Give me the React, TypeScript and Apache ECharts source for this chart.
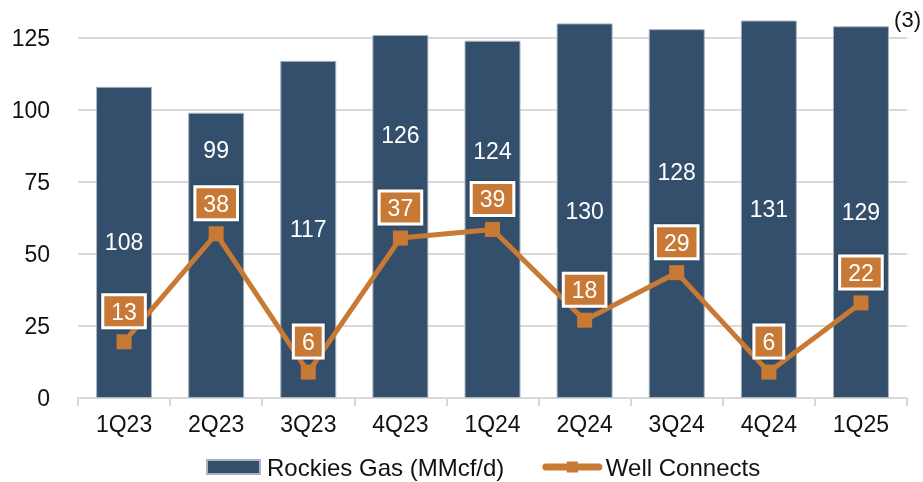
import React, { useEffect, useRef } from "react";
import * as echarts from "echarts";

const categories = ["1Q23", "2Q23", "3Q23", "4Q23", "1Q24", "2Q24", "3Q24", "4Q24", "1Q25"];
const rockiesGas = [108, 99, 117, 126, 124, 130, 128, 131, 129];
const wellConnects = [13, 38, 6, 37, 39, 18, 29, 6, 22];
const barLabelShift = [0, -105, 0, -81, -68, 0, -42, 0, 0];
const yTicks = { min: 0, max: 135, interval: 25 };
const footnote = "(3)";

const FONT = "Liberation Sans, Arial, sans-serif";
const BAR_COLOR = "#334f6b";
const LINE_COLOR = "#c87934";
const GRID_COLOR = "#d9d9d9";

export default function App() {
  const ref = useRef<HTMLDivElement>(null);
  useEffect(() => {
    if (!ref.current) return;
    const chart = echarts.init(ref.current, undefined, { renderer: "svg" });
    chart.setOption({
      animation: false,
      textStyle: { fontFamily: FONT },
      grid: { left: 78, right: 16, top: 9, bottom: 84, containLabel: false },
      legend: {
        top: 455,
        left: 206,
        padding: 0,
        itemGap: 38,
        itemWidth: 53,
        itemHeight: 14,
        textStyle: { fontSize: 24, color: "#111", fontFamily: FONT, padding: [0, 0, 0, 2] },
        data: [
          { name: "Rockies Gas (MMcf/d)", icon: "rect" },
          { name: "Well Connects", lineStyle: { width: 7, cap: "round" } },
        ],
      },
      graphic: [
        {
          type: "text",
          right: 2,
          top: 8,
          style: { text: footnote, fontSize: 22, fill: "#111", fontFamily: FONT },
        },
      ],
      xAxis: {
        type: "category",
        data: categories,
        boundaryGap: true,
        axisLine: { lineStyle: { color: GRID_COLOR, width: 2 } },
        axisTick: { show: true, length: 8, lineStyle: { color: GRID_COLOR, width: 2 } },
        axisLabel: { fontSize: 23, color: "#111", margin: 14, fontFamily: FONT },
      },
      yAxis: [
        {
          type: "value",
          min: yTicks.min,
          max: yTicks.max,
          interval: yTicks.interval,
          axisLabel: { fontSize: 23, color: "#111", margin: 28, showMaxLabel: false, fontFamily: FONT },
          axisLine: { show: false },
          axisTick: { show: false },
          splitLine: {
            lineStyle: {
              color: [GRID_COLOR, GRID_COLOR, GRID_COLOR, GRID_COLOR, GRID_COLOR, GRID_COLOR, "rgba(0,0,0,0)"],
              width: 2,
            },
          },
        },
        {
          type: "value",
          min: 0,
          max: yTicks.max / 1.5,
          show: false,
          splitLine: { show: false },
        },
      ],
      series: [
        {
          name: "Rockies Gas (MMcf/d)",
          type: "bar",
          yAxisIndex: 0,
          barWidth: 56,
          itemStyle: { color: BAR_COLOR, borderColor: "#aab4c0", borderWidth: 1 },
          data: rockiesGas.map((v, i) => ({
            value: v,
            label: { offset: [0, barLabelShift[i]] },
          })),
          label: {
            show: true,
            position: "inside",
            color: "#fff",
            fontSize: 23,
            fontFamily: FONT,
          },
          z: 1,
        },
        {
          name: "Well Connects",
          type: "line",
          yAxisIndex: 1,
          data: wellConnects,
          symbol: "rect",
          symbolSize: 15,
          lineStyle: { color: LINE_COLOR, width: 5 },
          itemStyle: { color: LINE_COLOR },
          label: {
            show: true,
            position: "top",
            distance: 8,
            color: "#fff",
            fontSize: 23,
            fontFamily: FONT,
            backgroundColor: LINE_COLOR,
            borderColor: "#fff",
            borderWidth: 3,
            padding: [4, 7, 3, 7],
            shadowColor: "rgba(0,0,0,0.35)",
            shadowBlur: 2,
          },
          z: 3,
        },
      ],
    });
    return () => chart.dispose();
  }, []);
  return (
    <div
      ref={ref}
      style={{ position: "fixed", left: 0, top: 0, width: 923, height: 482 }}
    />
  );
}
